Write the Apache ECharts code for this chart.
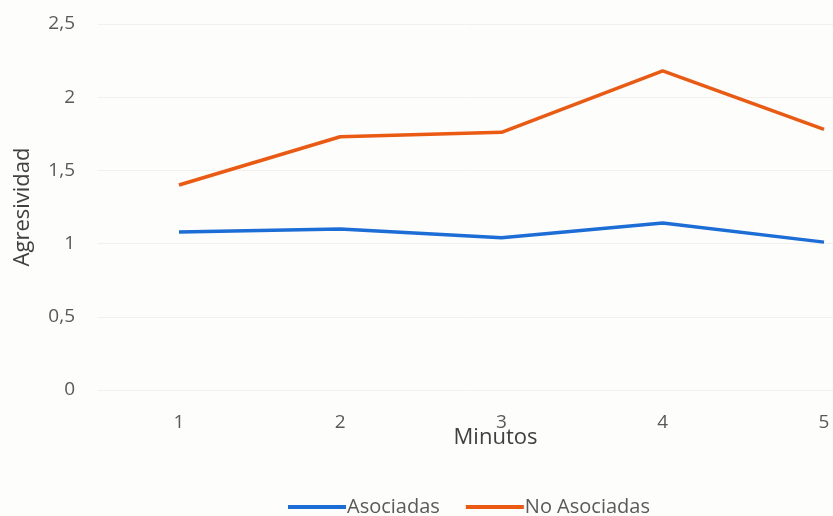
<!DOCTYPE html>
<html>
<head>
<meta charset="utf-8">
<script src="https://cdn.jsdelivr.net/npm/echarts@6/dist/echarts.min.js"></script>
<style>
  html, body { margin: 0; padding: 0; background: #fdfdfb; }
  #chart { width: 833px; height: 516px; }
</style>
</head>
<body>
<div id="chart"></div>
<script>
// Minutes on the horizontal axis
const minutos = ['1', '2', '3', '4', '5'];
// Aggression score per minute
const asociadas = [1.08, 1.10, 1.04, 1.14, 1.01];
const noAsociadas = [1.40, 1.73, 1.76, 2.18, 1.78];
// Value axis range
const yMin = 0, yMax = 2.5, yStep = 0.5;

const textColor = '#595959';
const fontFamily = '"Open Sans", sans-serif';

const chart = echarts.init(document.getElementById('chart'), null, { renderer: 'canvas' });
chart.setOption({
  backgroundColor: '#fdfdfb',
  animation: false,
  textStyle: { fontFamily: fontFamily },
  grid: [
    // frame for the value axis and its gridlines
    { left: 98, right: 0, top: 24, height: 366 },
    // plotting frame: categories centred, last one at the right border
    { left: 179, right: 9, top: 24, height: 366 }
  ],
  legend: {
    left: 283,
    top: 492,
    itemWidth: 58,
    itemHeight: 4,
    itemGap: 26,
    icon: 'rect',
    textStyle: { color: textColor, fontSize: 20, fontFamily: fontFamily, padding: [0, 0, 0, -4] },
    data: ['Asociadas', 'No Asociadas']
  },
  xAxis: [
    { gridIndex: 0, type: 'value', show: false, min: 0, max: 1 },
    {
      gridIndex: 1,
      type: 'category',
      data: minutos,
      boundaryGap: false,
      name: 'Minutos',
      nameLocation: 'middle',
      nameGap: 37,
      nameMoveOverlap: false,
      nameTextStyle: { color: '#404040', fontSize: 22, fontFamily: fontFamily, padding: [0, 12, 0, 0] },
      axisLine: { show: false },
      axisTick: { show: false },
      axisLabel: { color: textColor, fontSize: 19, margin: 23 }
    }
  ],
  yAxis: [
    {
      gridIndex: 0,
      type: 'value',
      min: yMin,
      max: yMax,
      interval: yStep,
      name: 'Agresividad',
      nameLocation: 'middle',
      nameGap: 64,
      nameTextStyle: { color: '#404040', fontSize: 22, fontFamily: fontFamily },
      axisLine: { show: false },
      axisTick: { show: false },
      axisLabel: {
        color: textColor,
        fontSize: 19,
        margin: 23,
        formatter: function (v) { return String(v).replace('.', ','); }
      },
      splitLine: { lineStyle: { color: '#f1f1ef', width: 1 } }
    },
    { gridIndex: 1, type: 'value', show: false, min: yMin, max: yMax, interval: yStep, splitLine: { show: false } }
  ],
  series: [
    {
      name: 'Asociadas',
      type: 'line',
      xAxisIndex: 1,
      yAxisIndex: 1,
      data: asociadas,
      symbol: 'none',
      color: '#1c6dd6',
      lineStyle: { width: 3.5, color: '#1c6dd6' }
    },
    {
      name: 'No Asociadas',
      type: 'line',
      xAxisIndex: 1,
      yAxisIndex: 1,
      data: noAsociadas,
      symbol: 'none',
      color: '#ea5a13',
      lineStyle: { width: 3.5, color: '#ea5a13' }
    }
  ]
});
</script>
</body>
</html>
